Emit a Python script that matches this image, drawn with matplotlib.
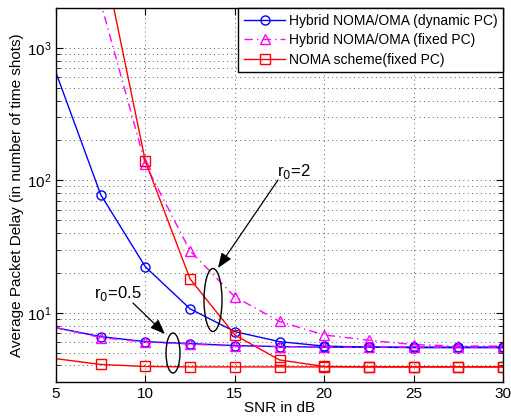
import matplotlib
matplotlib.use("Agg")
import matplotlib.pyplot as plt
from matplotlib.patches import Ellipse
import numpy as np

plt.rcParams['font.family'] = ['Liberation Sans', 'DejaVu Sans']

snr = [5, 7.5, 10, 12.5, 15, 17.5, 20, 22.5, 25, 27.5, 30]

# r0 = 2
dyn_r2 = [650, 78, 22.2, 10.7, 7.2, 6.05, 5.6, 5.5, 5.45, 5.45, 5.45]
fix_r2 = [40000, 2200, 132, 29.3, 13.2, 8.6, 6.8, 6.2, 5.75, 5.6, 5.6]
noma_r2 = [200000, 6000, 139, 18, 6.8, 4.4, 3.93, 3.9, 3.9, 3.9, 3.9]

# r0 = 0.5
dyn_r05 = [7.7, 6.6, 6.05, 5.85, 5.65, 5.55, 5.5, 5.5, 5.5, 5.5, 5.5]
fix_r05 = [7.7, 6.5, 6.0, 5.8, 5.6, 5.55, 5.5, 5.5, 5.5, 5.5, 5.5]
noma_r05 = [4.5, 4.07, 3.93, 3.9, 3.9, 3.9, 3.9, 3.9, 3.9, 3.9, 3.9]

labels = ['Hybrid NOMA/OMA (dynamic PC)', 'Hybrid NOMA/OMA (fixed PC)', 'NOMA scheme(fixed PC)']

fig = plt.figure(figsize=(5.11, 4.16), dpi=100)
ax = fig.add_axes([56/511, 34/416, 447/511, 374/416])

me = list(range(1, len(snr)))
dashdot = (0, (6, 3, 1, 3))
mk = dict(markersize=6.5, markerfacecolor='none', markevery=me, linewidth=1.0, markeredgewidth=1.0)
l1, = ax.plot(snr, dyn_r2, color='blue', marker='o', markeredgecolor='blue', **mk)
l2, = ax.plot(snr, fix_r2, color='magenta', linestyle=dashdot, marker='^', markeredgecolor='magenta', **mk)
l3, = ax.plot(snr, noma_r2, color='red', marker='s', markeredgecolor='red', **mk)
ax.plot(snr, dyn_r05, color='blue', marker='o', markeredgecolor='blue', **mk)
ax.plot(snr, fix_r05, color='magenta', linestyle=dashdot, marker='^', markeredgecolor='magenta', **mk)
ax.plot(snr, noma_r05, color='red', marker='s', markeredgecolor='red', **mk)

ax.set_yscale('log')
ax.set_xlim(5, 30)
ax.set_ylim(3.0, 2000)
ax.set_xticks([5, 10, 15, 20, 25, 30])
gridstyle = dict(linestyle=(0, (1, 3.5)), color='0.35', linewidth=0.7)
ax.grid(True, which='major', **gridstyle)
ax.grid(True, which='minor', **gridstyle)
ax.tick_params(which='both', direction='in', top=True, right=True, labelsize=11)
ax.tick_params(which='major', length=5)
ax.tick_params(which='minor', length=3)
for s in ax.spines.values():
    s.set_linewidth(1.0)

ax.set_xlabel('SNR in dB', fontsize=11, labelpad=0)
ax.set_ylabel('Average Packet Delay (in number of time shots)', fontsize=11, labelpad=2)

leg = ax.legend([l1, l2, l3], labels, loc='upper right', fontsize=10, fancybox=False,
                framealpha=1, edgecolor='black', borderaxespad=0, handlelength=3.0,
                borderpad=0.4, labelspacing=0.4, handletextpad=0.25)
leg.get_frame().set_linewidth(1.0)

def fx(px):
    return (px - 56) / 447

def fy(py):
    return (382 - py) / 374

T = ax.transAxes
ax.add_patch(Ellipse((fx(213), fy(300)), 18/447, 63/374, transform=T, fill=False,
                     edgecolor='black', linewidth=1.0, zorder=5))
ax.add_patch(Ellipse((fx(173), fy(353)), 14/447, 40/374, transform=T, fill=False,
                     edgecolor='black', linewidth=1.0, zorder=5))

arrowprops = dict(arrowstyle='-|>,head_length=0.9,head_width=0.35', color='black', lw=0.9,
                  shrinkA=0, shrinkB=0)
ax.annotate('', xy=(fx(218), fy(268)), xytext=(fx(278), fy(180)), xycoords=T,
            textcoords=T, arrowprops=arrowprops)
ax.annotate('', xy=(fx(165), fy(334)), xytext=(fx(133), fy(303)), xycoords=T,
            textcoords=T, arrowprops=arrowprops)

ax.text(fx(277), fy(176), r'r$_0$=2', transform=T, fontsize=12, ha='left', va='baseline')
ax.text(fx(94), fy(298), r'r$_0$=0.5', transform=T, fontsize=12, ha='left', va='baseline')

fig.savefig('out.png', dpi=100)
